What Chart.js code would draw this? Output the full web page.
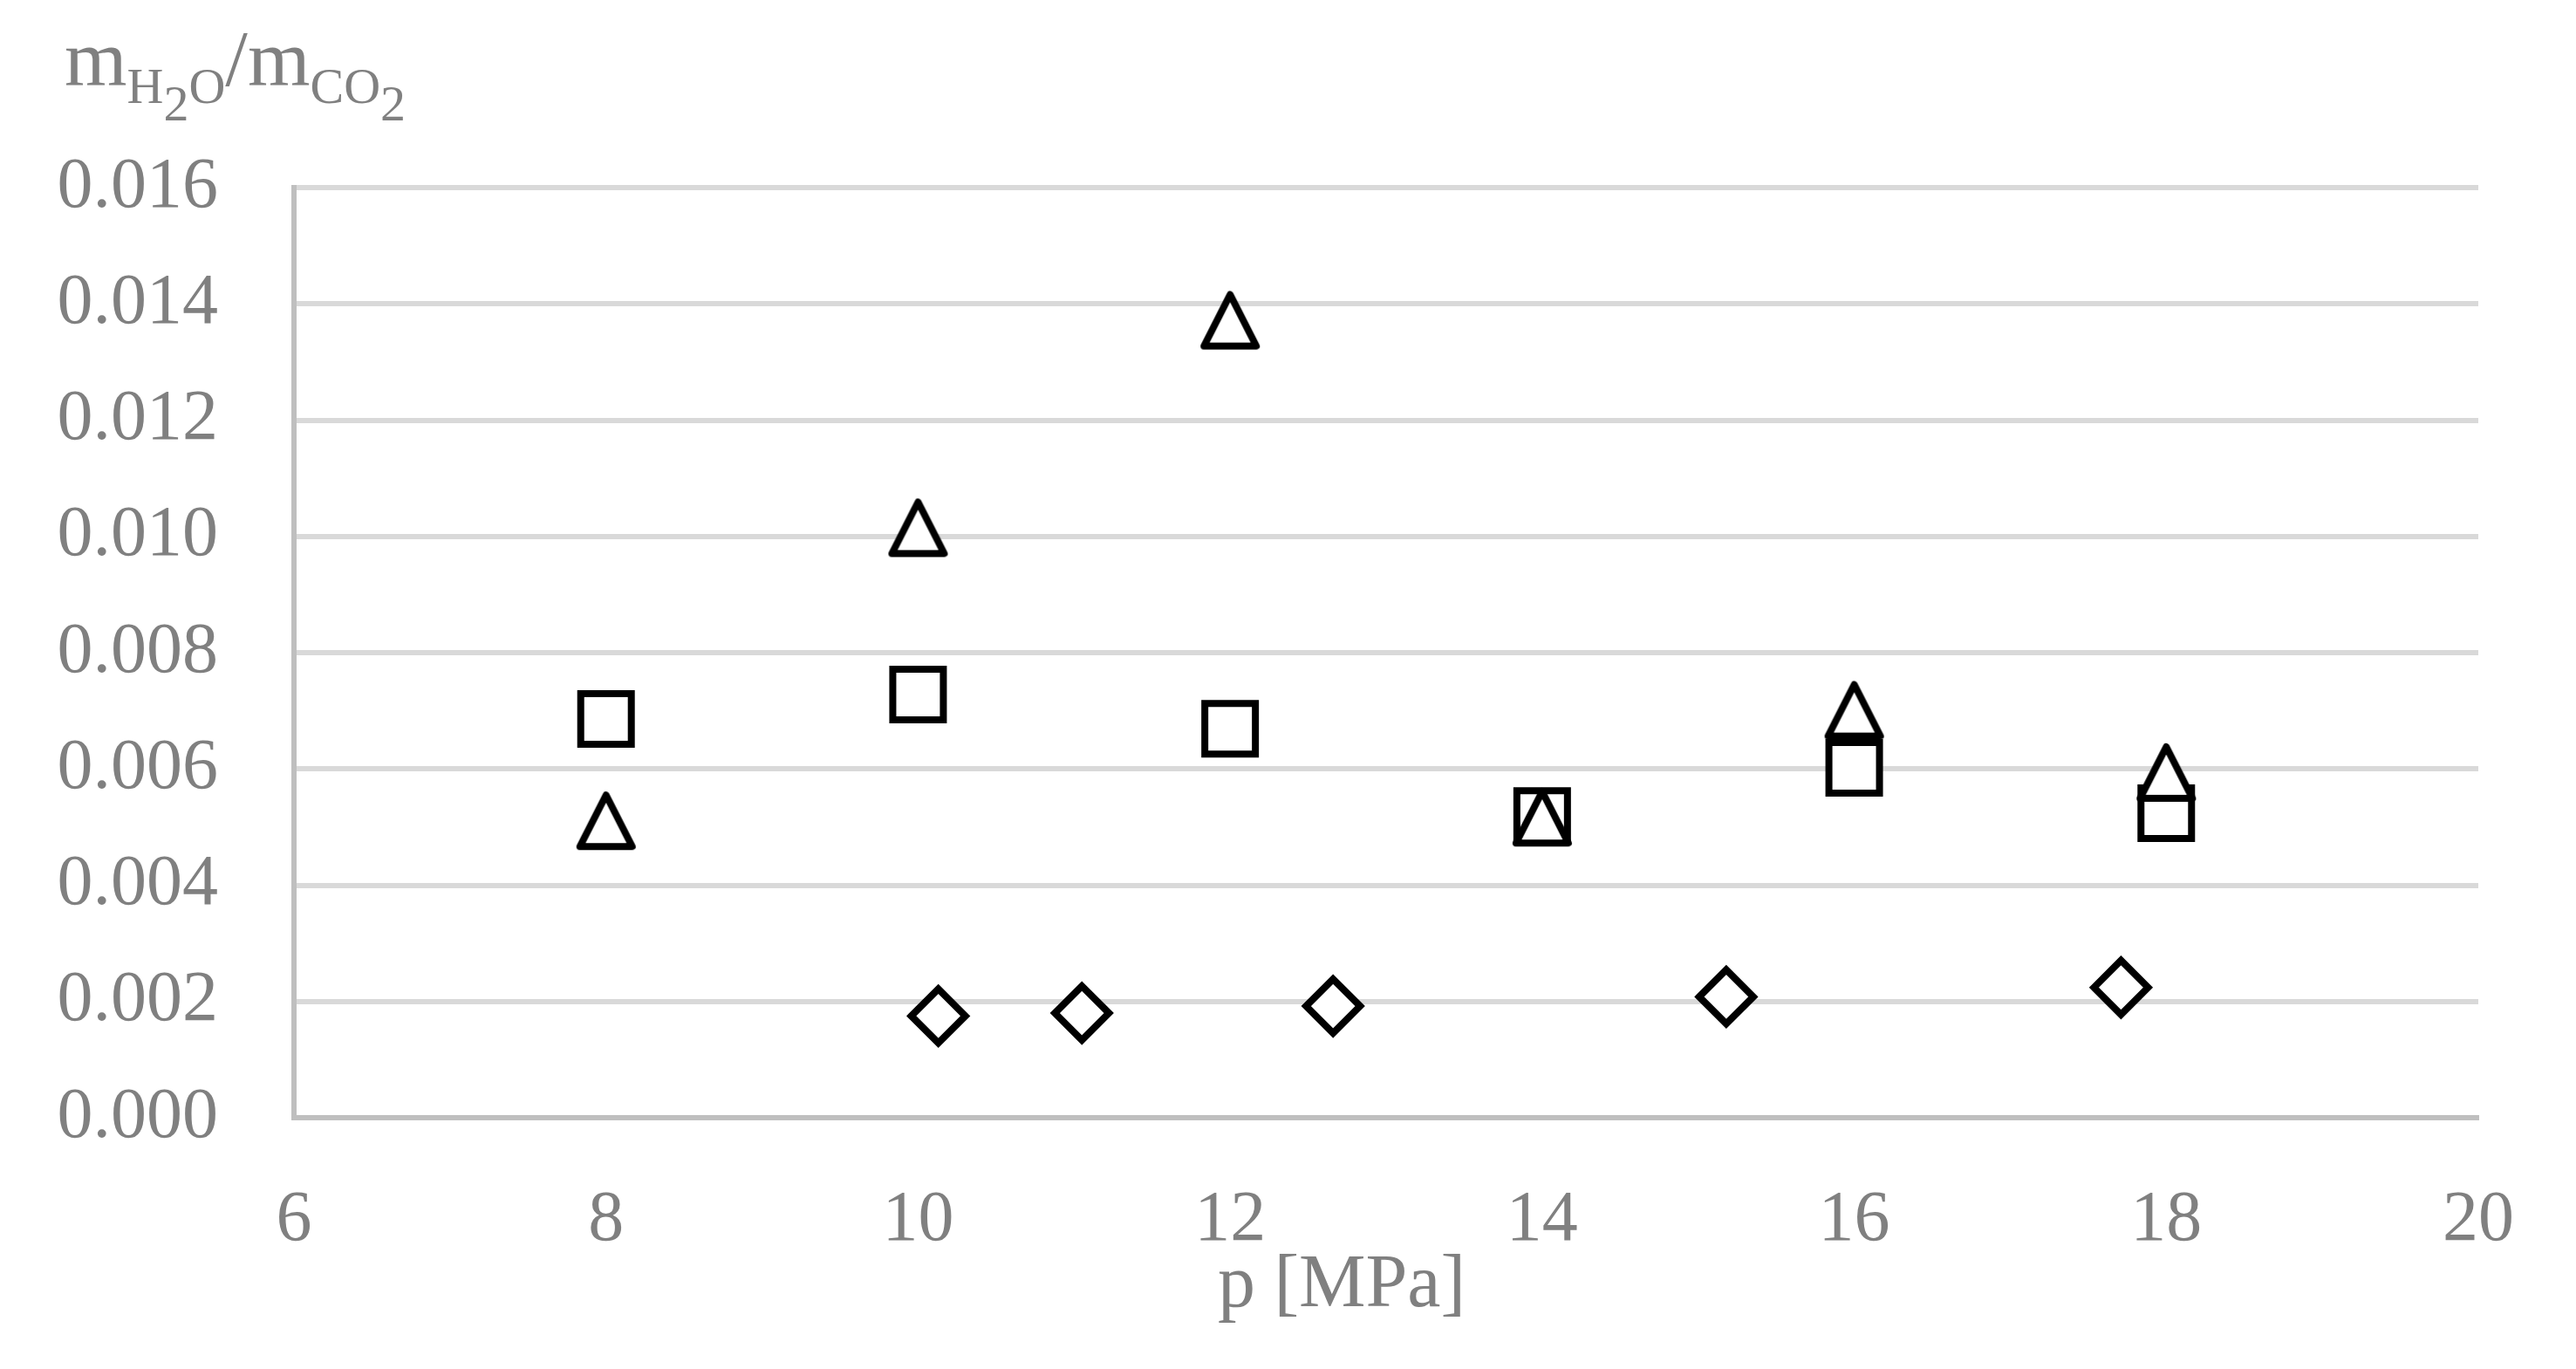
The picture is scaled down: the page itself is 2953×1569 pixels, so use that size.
<!DOCTYPE html>
<html>
<head>
<meta charset="utf-8">
<script src="https://cdn.jsdelivr.net/npm/chart.js@4"></script>
<style>
  html, body { margin: 0; padding: 0; background: #ffffff; }
  #box { width: 2953px; height: 1569px; }
</style>
</head>
<body>
<div id="box"><canvas id="scatterCanvas" width="2953" height="1569"></canvas></div>
<script>
// values
var pressure = [8, 10, 12, 14, 16, 18];
var triangleValues = [0.00510, 0.01014, 0.01371, 0.00516, 0.00700, 0.00593];
var squareValues = [0.00686, 0.00728, 0.00669, 0.00519, 0.00602, 0.00524];
var diamondPressure = [10.13, 11.05, 12.66, 15.18, 17.71];
var diamondValues = [0.00175, 0.00180, 0.00192, 0.00208, 0.00224];
var yTicks = [0, 0.002, 0.004, 0.006, 0.008, 0.010, 0.012, 0.014, 0.016];
var xTicks = [6, 8, 10, 12, 14, 16, 18, 20];

var grey = '#808080';
var serif = '"Liberation Serif", "DejaVu Serif", serif';

function toPoints(xs, ys) {
    var pts = [];
    for (var i = 0; i < xs.length; i++) {
        pts.push({ x: xs[i], y: ys[i] });
    }
    return pts;
}

// excel-like triangle marker (as tall as it is wide)
function triangleMarker() {
    var c = document.createElement('canvas');
    c.width = 74;
    c.height = 74;
    var g = c.getContext('2d');
    g.beginPath();
    g.moveTo(37, 7);
    g.lineTo(67, 66);
    g.lineTo(7, 66);
    g.closePath();
    g.fillStyle = '#ffffff';
    g.fill();
    g.lineWidth = 8;
    g.lineJoin = 'round';
    g.strokeStyle = '#000000';
    g.stroke();
    return c;
}

// axis titles with subscripts
var titles = {
    id: 'titles',
    afterDraw: function(chart) {
        var ctx = chart.ctx;
        ctx.save();
        ctx.fillStyle = grey;
        ctx.textBaseline = 'alphabetic';
        ctx.textAlign = 'left';
        var big = '92px ' + serif;
        var small = '58px ' + serif;
        var base = 98;
        var parts = [
            ['m', big, 0], ['H', small, 20], ['2', small, 40], ['O', small, 20],
            ['/', big, 0], ['m', big, 0], ['CO', small, 20], ['2', small, 40]
        ];
        var x = 74;
        parts.forEach(function(p) {
            ctx.font = p[1];
            ctx.fillText(p[0], x, base + p[2]);
            x += ctx.measureText(p[0]).width;
        });
        ctx.font = '86px ' + serif;
        ctx.textAlign = 'center';
        ctx.fillText('p [MPa]', 1538, 1497);
        ctx.restore();
    }
};

function scatterChart() {
    var ctx = document.getElementById('scatterCanvas').getContext('2d');

    var data = {
        datasets: [
            {
                label: 'triangle',
                data: toPoints(pressure, triangleValues),
                pointStyle: triangleMarker(),
                pointRadius: 33,
                backgroundColor: '#ffffff',
                borderColor: '#000000'
            },
            {
                label: 'square',
                data: toPoints(pressure, squareValues),
                pointStyle: 'rect',
                pointRadius: 41,
                pointBorderWidth: 8,
                backgroundColor: '#ffffff',
                borderColor: '#000000'
            },
            {
                label: 'diamond',
                data: toPoints(diamondPressure, diamondValues),
                pointStyle: 'rectRot',
                pointRadius: 31,
                pointBorderWidth: 8,
                backgroundColor: '#ffffff',
                borderColor: '#000000'
            }
        ]
    };

    var options = {
        responsive: false,
        animation: false,
        layout: {
            padding: { top: 215, right: 112, left: 0, bottom: 0 }
        },
        plugins: {
            legend: { display: false },
            tooltip: { enabled: false }
        },
        scales: {
            x: {
                type: 'linear',
                min: 6,
                max: 20,
                afterFit: function(scale) { scale.height = 288; },
                afterBuildTicks: function(scale) {
                    scale.ticks = xTicks.map(function(v) { return { value: v }; });
                },
                grid: { display: false, drawTicks: false },
                border: { display: true, color: '#bfbfbf', width: 6 },
                ticks: {
                    color: grey,
                    padding: 69,
                    font: { family: serif, size: 82 }
                }
            },
            y: {
                min: 0,
                max: 0.016,
                afterFit: function(scale) { scale.width = 337; },
                afterBuildTicks: function(scale) {
                    scale.ticks = yTicks.map(function(v) { return { value: v }; });
                },
                grid: { color: '#d9d9d9', lineWidth: 6, drawTicks: false },
                border: { display: true, color: '#bfbfbf', width: 6 },
                ticks: {
                    color: grey,
                    padding: 87,
                    font: { family: serif, size: 82 },
                    callback: function(v) { return v.toFixed(3); }
                }
            }
        }
    };

    new Chart(ctx, {
        type: 'scatter',
        data: data,
        options: options,
        plugins: [titles]
    });
}

scatterChart();
</script>
</body>
</html>
